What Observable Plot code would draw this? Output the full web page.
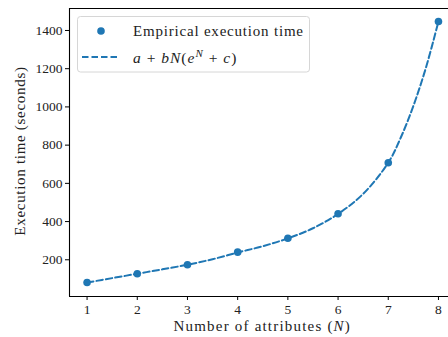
<!DOCTYPE html>
<html><head><meta charset="utf-8">
<script src="https://cdn.jsdelivr.net/npm/d3@7"></script>
<script src="https://cdn.jsdelivr.net/npm/@observablehq/plot@0.6"></script>
<style>
body{margin:0;background:#fff}
</style></head><body><div id="chart"></div>
<script>
const attributes = [1, 2, 3, 4, 5, 6, 7, 8];
const execTimes = [81, 127, 174, 240, 313, 441, 708, 1447];
// dashed fitted curve
const fitN = [1, 1.5, 2, 2.5, 3, 3.5, 4, 4.5, 5, 5.5, 6, 6.5, 7, 7.25, 7.5, 7.75, 8];
const fitTime = [81, 104, 127, 150, 174, 203, 238, 271, 312, 365, 440, 545, 708, 840, 1005, 1205, 1447];
const xTicks = [1, 2, 3, 4, 5, 6, 7, 8];
const yTicks = [200, 400, 600, 800, 1000, 1200, 1400];
const xDomain = [0.65, 8.2];
const yDomain = [7.85, 1515];
const legendLabels = ["Empirical execution time", "a + bN(e^N + c)"];
const xLabel = "Number of attributes";
const yLabel = "Execution time (seconds)";

const blue = "#1f77b4";
const font = "'Liberation Serif', 'DejaVu Serif', serif";
const ink = "#222";

const points = attributes.map((n, i) => ({n, t: execTimes[i]}));
const fit = fitN.map((n, i) => ({n, t: fitTime[i]}));

const plot = Plot.plot({
  width: 448, height: 337,
  marginLeft: 69, marginRight: 0, marginTop: 8, marginBottom: 41,
  style: {fontFamily: font, fontSize: "13.5px", color: ink, background: "#fff", overflow: "visible"},
  x: {domain: xDomain},
  y: {domain: yDomain},
  marks: [
    Plot.line(fit, {x: "n", y: "t", stroke: blue, strokeWidth: 2, strokeDasharray: "6.5,3", curve: "catmull-rom"}),
    Plot.dot(points, {x: "n", y: "t", fill: blue, r: 3.8}),
    Plot.ruleX([xDomain[0]], {stroke: "#000", strokeWidth: 1.1}),
    Plot.ruleY([yDomain[0]], {stroke: "#000", strokeWidth: 1.1}),
    Plot.ruleY([yDomain[1]], {stroke: "#000", strokeWidth: 1.1}),
    Plot.axisX(xTicks, {tickSize: 4, tickPadding: 4, label: null, fontSize: 13.5, stroke: "#000", tickFormat: d3.format("d")}),
    Plot.axisY(yTicks, {tickSize: 4, tickPadding: 3, label: null, fontSize: 13.5, stroke: "#000", tickFormat: d3.format("d")})
  ]
});
document.getElementById("chart").appendChild(plot);

const svg = d3.select(plot);
const xs = plot.scale("x"), ys = plot.scale("y");

function txt(sel) {
  return sel.attr("text-anchor", "start")
    .style("font-family", font).style("font-size", "15px").attr("fill", ink)
    .style("letter-spacing", "0.6px").style("white-space", "pre");
}

// axis labels
const xl = txt(svg.append("text")).attr("text-anchor", "middle")
  .style("letter-spacing", "1.2px")
  .attr("x", xs.apply(4.5)).attr("y", 331);
xl.append("tspan").text(xLabel + " (");
xl.append("tspan").attr("font-style", "italic").text("N");
xl.append("tspan").text(")");

txt(svg.append("text")).attr("text-anchor", "middle")
  .style("letter-spacing", "0.7px")
  .attr("transform", `translate(25,${(ys.apply(yDomain[0]) + ys.apply(yDomain[1])) / 2 - 1}) rotate(-90)`)
  .text(yLabel);

// legend
const lg = svg.append("g");
lg.append("rect").attr("x", 77.5).attr("y", 16.5).attr("width", 232).attr("height", 55.5)
  .attr("rx", 3).attr("fill", "#fff").attr("fill-opacity", 0.8).attr("stroke", "#d6d6d6");
lg.append("circle").attr("cx", 101).attr("cy", 31).attr("r", 3.8).attr("fill", blue);
lg.append("line").attr("x1", 82).attr("x2", 118).attr("y1", 57).attr("y2", 57)
  .attr("stroke", blue).attr("stroke-width", 2).attr("stroke-dasharray", "6.5,3");
txt(lg.append("text")).attr("x", 133).attr("y", 36).style("letter-spacing", "0.8px").text(legendLabels[0]);
const m = txt(lg.append("text")).attr("x", 133).attr("y", 62.5).style("letter-spacing", "1px")
  .style("font-size", "15.5px");
m.append("tspan").attr("font-style", "italic").text("a");
m.append("tspan").text(" + ");
m.append("tspan").attr("font-style", "italic").text("bN");
m.append("tspan").text("(");
m.append("tspan").attr("font-style", "italic").text("e");
m.append("tspan").attr("font-style", "italic").attr("font-size", "11px").attr("dy", -6).text("N");
m.append("tspan").attr("dy", 6).text(" + ");
m.append("tspan").attr("font-style", "italic").text("c");
m.append("tspan").text(")");
</script></body></html>
